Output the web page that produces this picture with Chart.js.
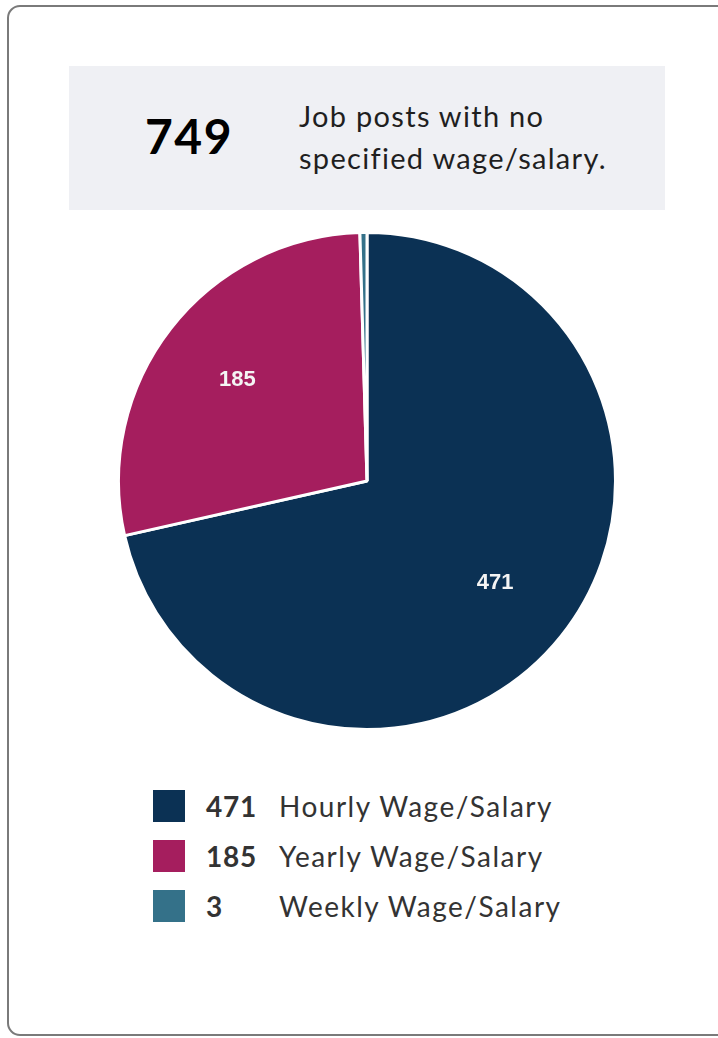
<!DOCTYPE html>
<html>
<head>
<meta charset="utf-8">
<script src="https://cdn.jsdelivr.net/npm/chart.js@4"></script>
<style>
  html, body { margin: 0; padding: 0; background: #fff; }
  body { width: 718px; height: 1038px; position: relative; overflow: hidden; font-family: Lato, "Open Sans", sans-serif; }
  .card { position: absolute; left: 7px; top: 5px; width: 730px; height: 1031px; border: 2px solid #7a7a7a; border-radius: 13px; box-sizing: border-box; }
  .header { position: absolute; left: 69px; top: 66px; width: 596px; height: 144px; background: #eff0f4; }
  .header .big { position: absolute; left: 0; width: 240px; top: 43px; text-align: center; font-weight: 700; font-size: 48px; line-height: 54px; color: #000; letter-spacing: 1.5px; }
  .header .txt { position: absolute; left: 230px; top: 29px; font-size: 29px; line-height: 42px; color: #1f1f1f; letter-spacing: 1.3px; }
  .pie-wrap { position: absolute; left: 117px; top: 231px; width: 500px; height: 500px; }
  .legend { position: absolute; left: 153px; top: 789px; }
  .legend .row { position: relative; height: 50px; }
  .legend .sw { position: absolute; left: 0; top: 1px; width: 32px; height: 32px; }
  .legend .num { position: absolute; left: 53px; top: 0; font-weight: 700; font-size: 28px; line-height: 34px; color: #333; letter-spacing: 0.8px; }
  .legend .lab { position: absolute; left: 126px; top: 0; font-size: 28px; line-height: 34px; color: #333; white-space: nowrap; letter-spacing: 1.5px; }
</style>
</head>
<body>
<div class="card"></div>
<div class="header">
  <div class="big" id="total"></div>
  <div class="txt">Job posts with no<br>specified wage/salary.</div>
</div>
<div class="pie-wrap"><canvas id="wageChart"></canvas></div>
<div class="legend" id="legend"></div>
<script>
const unspecified = 749;
const labels = ['Hourly Wage/Salary', 'Yearly Wage/Salary', 'Weekly Wage/Salary'];
const values = [471, 185, 3];
const colors = ['#0b3154', '#a51e5e', '#347189'];

document.getElementById('total').textContent = unspecified;

// Legend built from the data
const legendEl = document.getElementById('legend');
labels.forEach(function(lab, i) {
    const row = document.createElement('div');
    row.className = 'row';
    row.innerHTML = '<div class="sw" style="background:' + colors[i] + '"></div>' +
        '<div class="num">' + values[i] + '</div>' +
        '<div class="lab">' + lab + '</div>';
    legendEl.appendChild(row);
});

// Value labels inside the slices
const sliceLabels = {
    id: 'sliceLabels',
    afterDatasetsDraw(chart) {
        const ctx = chart.ctx;
        const total = values.reduce((a, b) => a + b, 0);
        chart.getDatasetMeta(0).data.forEach(function(arc, i) {
            if (values[i] / total < 0.05) return;
            const p = arc.getProps(['x', 'y', 'startAngle', 'endAngle', 'outerRadius'], true);
            const mid = (p.startAngle + p.endAngle) / 2;
            const r = p.outerRadius * 0.66;
            ctx.save();
            ctx.fillStyle = '#f4f4f4';
            ctx.font = 'bold 22px "Liberation Sans", Arial, sans-serif';
            ctx.textAlign = 'center';
            ctx.textBaseline = 'middle';
            ctx.fillText(values[i], p.x + Math.cos(mid) * r, p.y + Math.sin(mid) * r);
            ctx.restore();
        });
    }
};

const wageCtx = document.getElementById('wageChart').getContext('2d');
const wageChart = new Chart(wageCtx, {
    type: 'pie',
    data: {
        labels: labels,
        datasets: [{
            data: values,
            backgroundColor: colors,
            borderColor: '#ffffff',
            borderWidth: 3
        }]
    },
    options: {
        responsive: true,
        maintainAspectRatio: false,
        animation: false,
        plugins: {
            legend: { display: false },
            tooltip: { enabled: false }
        }
    },
    plugins: [sliceLabels]
});
</script>
</body>
</html>
